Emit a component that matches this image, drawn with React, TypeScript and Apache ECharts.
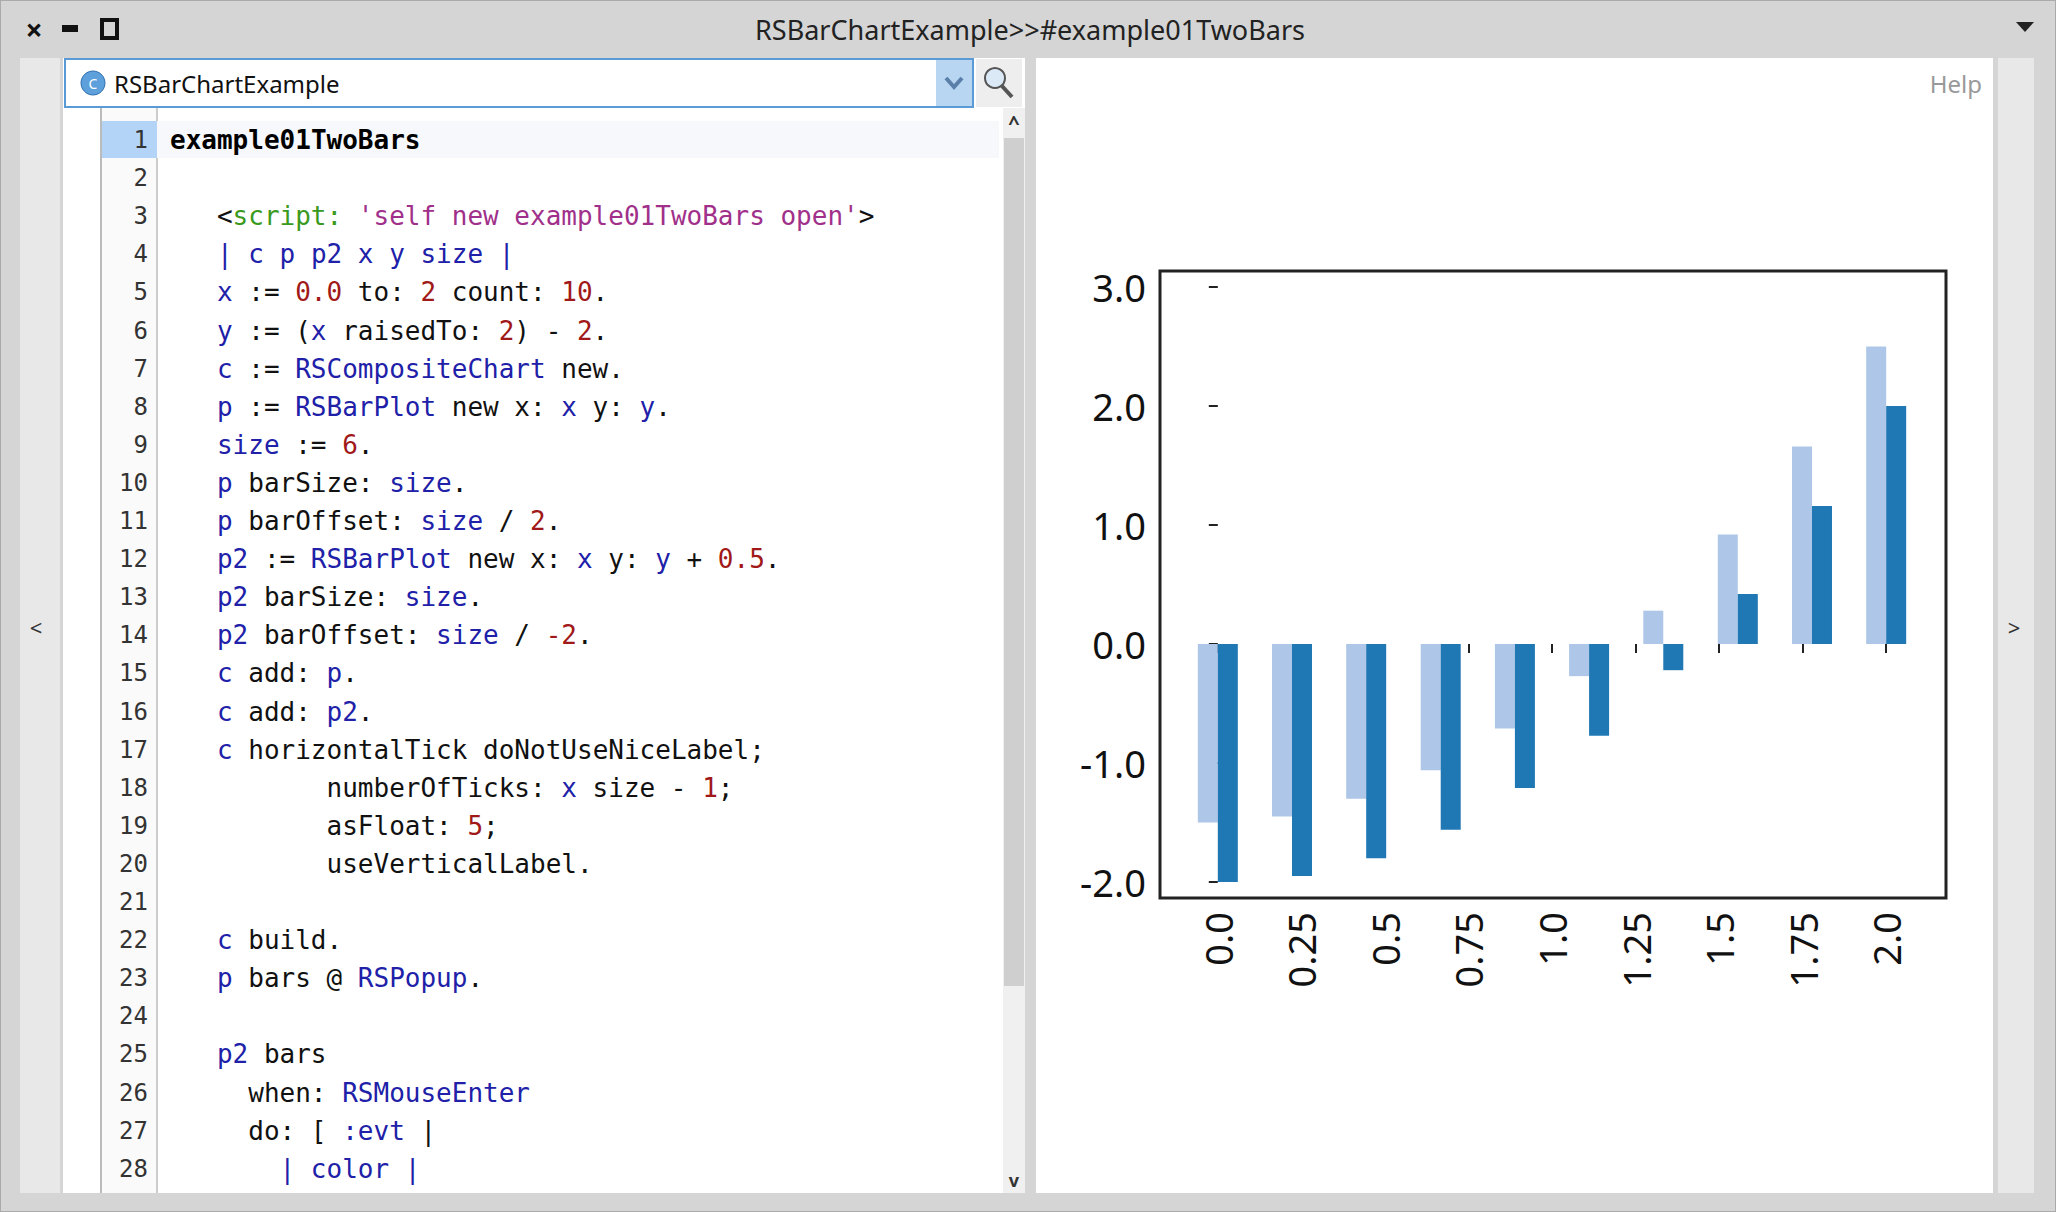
import React, { useEffect, useRef } from 'react';
import * as echarts from 'echarts';

const xValues = [0.0, 0.222, 0.444, 0.667, 0.889, 1.111, 1.333, 1.556, 1.778, 2.0];
const lightValues = [-1.5, -1.45, -1.3, -1.06, -0.71, -0.27, 0.28, 0.92, 1.66, 2.5];
const darkValues = [-2.0, -1.95, -1.8, -1.56, -1.21, -0.77, -0.22, 0.42, 1.16, 2.0];
const xTicks = [0, 0.25, 0.5, 0.75, 1.0, 1.25, 1.5, 1.75, 2.0];
const xTickLabels = ['0.0', '0.25', '0.5', '0.75', '1.0', '1.25', '1.5', '1.75', '2.0'];
const yTicks = [-2, -1, 0, 1, 2, 3];

// code listing: [indent, tokens]; token = [text, style]
type Tok = [string, string?];
const codeLines: [number, Tok[]][] = [
    [0, [['example01TwoBars', 'b']]],
    [0, []],
    [3, [['<'], ['script:', 'g'], [" 'self new example01TwoBars open'", 's'], ['>']]],
    [3, [['| c p p2 x y size |', 'v']]],
    [3, [['x', 'v'], [' := '], ['0.0', 'n'], [' to: '], ['2', 'n'], [' count: '], ['10', 'n'], ['.']]],
    [3, [['y', 'v'], [' := ('], ['x', 'v'], [' raisedTo: '], ['2', 'n'], [') - '], ['2', 'n'], ['.']]],
    [3, [['c', 'v'], [' := '], ['RSCompositeChart', 'v'], [' new.']]],
    [3, [['p', 'v'], [' := '], ['RSBarPlot', 'v'], [' new x: '], ['x', 'v'], [' y: '], ['y', 'v'], ['.']]],
    [3, [['size', 'v'], [' := '], ['6', 'n'], ['.']]],
    [3, [['p', 'v'], [' barSize: '], ['size', 'v'], ['.']]],
    [3, [['p', 'v'], [' barOffset: '], ['size', 'v'], [' / '], ['2', 'n'], ['.']]],
    [3, [['p2', 'v'], [' := '], ['RSBarPlot', 'v'], [' new x: '], ['x', 'v'], [' y: '], ['y', 'v'], [' + '], ['0.5', 'n'], ['.']]],
    [3, [['p2', 'v'], [' barSize: '], ['size', 'v'], ['.']]],
    [3, [['p2', 'v'], [' barOffset: '], ['size', 'v'], [' / '], ['-2', 'n'], ['.']]],
    [3, [['c', 'v'], [' add: '], ['p', 'v'], ['.']]],
    [3, [['c', 'v'], [' add: '], ['p2', 'v'], ['.']]],
    [3, [['c', 'v'], [' horizontalTick doNotUseNiceLabel;']]],
    [10, [['numberOfTicks: '], ['x', 'v'], [' size - '], ['1', 'n'], [';']]],
    [10, [['asFloat: '], ['5', 'n'], [';']]],
    [10, [['useVerticalLabel.']]],
    [0, []],
    [3, [['c', 'v'], [' build.']]],
    [3, [['p', 'v'], [' bars @ '], ['RSPopup', 'v'], ['.']]],
    [0, []],
    [3, [['p2', 'v'], [' bars']]],
    [5, [['when: '], ['RSMouseEnter', 'v']]],
    [5, [['do: [ '], [':evt', 'v'], [' |']]],
    [7, [['| color |', 'v']]],
];

const styleColors: Record<string, string> = {
    v: '#2020a8',
    n: '#a01818',
    s: '#a0308a',
    g: '#3a9a20',
    b: '#000',
};

const MONO = 'DejaVu Sans Mono';
const FS = 26;
const CW = FS * 0.602;
const CODE_X = 170;
const LINE0 = 140;
const LH = 38.1;

function buildCode(): any[] {
    const els: any[] = [];
    codeLines.forEach(([indent, toks], i) => {
        const y = LINE0 + i * LH;
        els.push({
            type: 'text', x: 148, y,
            style: { text: String(i + 1), font: `24px ${MONO}`, fill: '#333', align: 'right', verticalAlign: 'middle' },
        });
        let col = indent;
        toks.forEach(([t, st]) => {
            const lead = t.length - t.trimStart().length;
            const txt = t.trim();
            if (txt) {
                els.push({
                    type: 'text', x: CODE_X + (col + lead) * CW, y,
                    style: {
                        text: txt,
                        font: `${st === 'b' ? 'bold ' : ''}${FS}px ${MONO}`,
                        fill: st ? styleColors[st] : '#111',
                        verticalAlign: 'middle',
                    },
                });
            }
            col += t.length;
        });
    });
    return els;
}

const App: React.FC = () => {
    const chartRef = useRef<HTMLDivElement>(null);

    useEffect(() => {
        document.body.style.margin = '0';
        if (!chartRef.current) return;
        const chart = echarts.init(chartRef.current, undefined, { renderer: 'svg' });

        const sans = 'Noto Sans';
        const graphic: any[] = [
            // window chrome
            { type: 'rect', z: -10, shape: { x: 0, y: 0, width: 2056, height: 1212 }, style: { fill: '#d5d5d5', stroke: '#aaa', lineWidth: 2 } },
            { type: 'text', x: 34, y: 29, style: { text: '×', font: `bold 30px ${sans}`, fill: '#111', align: 'center', verticalAlign: 'middle' } },
            { type: 'rect', shape: { x: 62, y: 25, width: 16, height: 7 }, style: { fill: '#111' } },
            { type: 'rect', shape: { x: 102, y: 20, width: 15, height: 18 }, style: { fill: 'none', stroke: '#111', lineWidth: 4 } },
            { type: 'text', x: 1030, y: 29, style: { text: 'RSBarChartExample>>#example01TwoBars', font: `27px ${sans}`, fill: '#222', align: 'center', verticalAlign: 'middle' } },
            { type: 'polygon', shape: { points: [[2016, 22], [2034, 22], [2025, 32]] }, style: { fill: '#222' } },
            // side strips
            { type: 'rect', shape: { x: 20, y: 58, width: 40, height: 1135 }, style: { fill: '#e8e8e8' } },
            { type: 'text', x: 36, y: 627, style: { text: '<', font: `22px ${sans}`, fill: '#333', align: 'center', verticalAlign: 'middle' } },
            { type: 'rect', shape: { x: 1998, y: 58, width: 36, height: 1135 }, style: { fill: '#e8e8e8' } },
            { type: 'text', x: 2014, y: 627, style: { text: '>', font: `22px ${sans}`, fill: '#333', align: 'center', verticalAlign: 'middle' } },
            // left code panel
            { type: 'rect', shape: { x: 63, y: 58, width: 962, height: 1135 }, style: { fill: '#fff' } },
            { type: 'rect', shape: { x: 102, y: 108, width: 55, height: 1085 }, style: { fill: '#fafafa' } },
            { type: 'line', shape: { x1: 101, y1: 108, x2: 101, y2: 1193 }, style: { stroke: '#bbb', lineWidth: 2 } },
            { type: 'line', shape: { x1: 157, y1: 108, x2: 157, y2: 1193 }, style: { stroke: '#ccc', lineWidth: 2 } },
            { type: 'rect', shape: { x: 102, y: 121, width: 55, height: 37 }, style: { fill: '#b3d4f7' } },
            { type: 'rect', shape: { x: 157, y: 121, width: 842, height: 37 }, style: { fill: '#f6f8fb' } },
            // class field
            { type: 'rect', shape: { x: 65, y: 59, width: 908, height: 48 }, style: { fill: '#fff', stroke: '#5b9bd5', lineWidth: 2 } },
            { type: 'rect', shape: { x: 936, y: 60, width: 36, height: 46 }, style: { fill: '#b8d6f2' } },
            { type: 'polyline', shape: { points: [[946, 78], [954, 87], [962, 78]] }, style: { stroke: '#5a7fa8', lineWidth: 4, fill: 'none' } },
            { type: 'rect', shape: { x: 976, y: 59, width: 46, height: 48 }, style: { fill: '#eee' } },
            { type: 'circle', shape: { cx: 995, cy: 78, r: 10 }, style: { fill: '#dbe9f7', stroke: '#555', lineWidth: 2 } },
            { type: 'line', shape: { x1: 1002, y1: 86, x2: 1012, y2: 97 }, style: { stroke: '#555', lineWidth: 4 } },
            { type: 'circle', shape: { cx: 93, cy: 83, r: 12 }, style: { fill: '#5da0dc', stroke: '#2e6fae', lineWidth: 1 } },
            { type: 'text', x: 93, y: 83, style: { text: 'C', font: `14px ${sans}`, fill: '#fff', align: 'center', verticalAlign: 'middle' } },
            { type: 'text', x: 114, y: 83, style: { text: 'RSBarChartExample', font: `24px ${sans}`, fill: '#111', verticalAlign: 'middle' } },
            // scrollbar
            { type: 'rect', shape: { x: 1003, y: 108, width: 22, height: 1085 }, style: { fill: '#f0f0f0' } },
            { type: 'rect', shape: { x: 1004, y: 138, width: 20, height: 848 }, style: { fill: '#cfcfcf' } },
            { type: 'text', x: 1014, y: 122, style: { text: '^', font: `bold 20px ${sans}`, fill: '#333', align: 'center', verticalAlign: 'middle' } },
            { type: 'text', x: 1014, y: 1180, style: { text: 'v', font: `bold 18px ${sans}`, fill: '#333', align: 'center', verticalAlign: 'middle' } },
            // right panel
            { type: 'rect', shape: { x: 1036, y: 58, width: 957, height: 1135 }, style: { fill: '#fff' } },
            { type: 'text', x: 1982, y: 83, style: { text: 'Help', font: `24px ${sans}`, fill: '#999', align: 'right', verticalAlign: 'middle' } },
            ...buildCode(),
        ];
        graphic.forEach((g) => { if (g.z === undefined) g.z = -5; });

        const option: any = {
            animation: false,
            graphic,
            grid: {
                left: 1160, top: 271, width: 786, height: 627,
                show: true, borderColor: '#222', borderWidth: 3, backgroundColor: 'transparent', z: 3,
            },
            xAxis: {
                type: 'value', min: -0.173, max: 2.179,
                splitLine: { show: false },
                axisLine: { show: false },
                axisTick: { show: true, customValues: xTicks, length: 9, lineStyle: { color: '#222', width: 2 } },
                axisLabel: {
                    customValues: xTicks, rotate: 90, margin: 14,
                    formatter: (v: number) => xTickLabels[xTicks.indexOf(v)] ?? '',
                    fontFamily: sans, fontSize: 38, color: '#111',
                },
            },
            yAxis: {
                type: 'value', min: -2.134, max: 3.134,
                splitLine: { show: false },
                axisLine: { show: false },
                axisTick: { show: true, customValues: yTicks, length: 9, lineStyle: { color: '#222', width: 2 } },
                axisLabel: {
                    customValues: yTicks, margin: 14,
                    formatter: (v: number) => v.toFixed(1),
                    fontFamily: sans, fontSize: 38, color: '#111',
                },
            },
            series: [
                {
                    type: 'bar', barWidth: 20, barGap: '0%',
                    itemStyle: { color: '#aec7e8' },
                    data: xValues.map((x, i) => [x, lightValues[i]]),
                },
                {
                    type: 'bar', barWidth: 20, barGap: '0%',
                    itemStyle: { color: '#1f77b4' },
                    data: xValues.map((x, i) => [x, darkValues[i]]),
                },
            ],
        };

        chart.setOption(option);
        return () => chart.dispose();
    }, []);

    return <div ref={chartRef} style={{ width: 2056, height: 1212 }} />;
};

export default App;
